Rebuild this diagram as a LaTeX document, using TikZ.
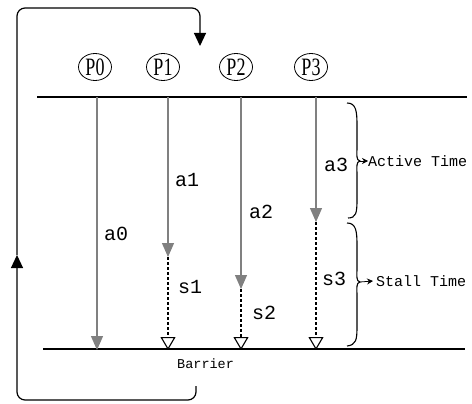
\documentclass[tikz,border=0pt]{standalone}
\usepackage{fontspec}
\setmainfont{Liberation Serif}
\setmonofont{Liberation Mono}
\usepackage{tikz}
\usetikzlibrary{arrows.meta,shapes.geometric}

\begin{document}
\begin{tikzpicture}[
    x=1pt, y=-1pt,
    proc/.style={
        draw,
        ellipse,
        thick,
        inner sep=0pt,
        minimum width=33pt,
        minimum height=27pt,
        font=\fontsize{25}{25}\selectfont
    },
    active/.style={
        draw=gray,
        line width=1.4pt,
        -{Triangle[width=12pt,length=14pt]}
    },
    stall/.style={
        line width=1.2pt,
        dash pattern=on 3pt off 2pt,
        -{Triangle[open,width=15pt,length=13pt,line width=1.1pt,fill=white]}
    },
    lbl/.style={
        anchor=west,
        inner sep=0pt,
        font=\ttfamily\fontsize{20}{20}\selectfont
    },
    note/.style={
        anchor=west,
        inner sep=0pt,
        font=\ttfamily\fontsize{15}{15}\selectfont
    },
    timebrace/.style={
        line width=1.1pt
    },
    loop/.style={
        line width=1.2pt,
        rounded corners=8pt
    }
]
    \useasboundingbox (0,0) rectangle (472,404);

    % --- Processors ---
    \node[proc] (p0) at (95,67)  {\scalebox{0.72}[1]{P0}};
    \node[proc] (p1) at (163,67) {\scalebox{0.72}[1]{P1}};
    \node[proc] (p2) at (236,67) {\scalebox{0.72}[1]{P2}};
    \node[proc] (p3) at (311,67) {\scalebox{0.72}[1]{P3}};

    % --- Start line and barrier ---
    \coordinate (startL) at (37,97);
    \coordinate (startR) at (467,97);
    \coordinate (barL) at (43,349);
    \coordinate (barR) at (465,349);
    \draw[line width=1.3pt] (startL) -- (startR);
    \draw[line width=1.3pt] (barL) -- (barR);
    \node[note, font=\ttfamily\fontsize{13.5}{14}\selectfont] (barrier) at (177,364) {Barrier};

    % --- Ends of the active and stall phases ---
    \coordinate (t0) at (97,97);   \coordinate (b0) at (97,350);
    \coordinate (t1) at (168,97);  \coordinate (m1) at (168,257); \coordinate (b1) at (168,350);
    \coordinate (t2) at (241,97);  \coordinate (m2) at (241,289); \coordinate (b2) at (241,350);
    \coordinate (t3) at (316,97);  \coordinate (m3) at (316,222); \coordinate (b3) at (316,350);

    \draw[active] (t0) -- (b0);
    \draw[active] (t1) -- (m1);
    \draw[active] (t2) -- (m2);
    \draw[active] (t3) -- (m3);
    \draw[stall] (m1) -- (b1);
    \draw[stall] (m2) -- (b2);
    \draw[stall] (m3) -- (b3);

    \node[lbl] (a0) at (104,234) {a0};
    \node[lbl] (a1) at (175,180) {a1};
    \node[lbl] (a2) at (249,212) {a2};
    \node[lbl] (a3) at (324,165) {a3};
    \node[lbl] (s1) at (178,287) {s1};
    \node[lbl] (s2) at (252,313) {s2};
    \node[lbl] (s3) at (322,279) {s3};

    % --- Braces for active and stall time ---
    \coordinate (acttip) at (360,161);
    \coordinate (stltip) at (360,282);
    \draw[timebrace] (347,103) .. controls (356,103) and (357,111) .. (357,125)
        -- (357,146) .. controls (357,156) and (356,160) .. (acttip)
        .. controls (356,162) and (357,166) .. (357,176)
        -- (357,200) .. controls (357,213) and (356,218) .. (348,218);
    \draw[timebrace] (347,223) .. controls (356,223) and (357,231) .. (357,245)
        -- (357,267) .. controls (357,277) and (356,281) .. (stltip)
        .. controls (356,283) and (357,287) .. (357,297)
        -- (357,327) .. controls (357,340) and (356,345) .. (347,346);
    \node[note] (active) at (368,161) {Active Time};
    \node[note] (stalled) at (376,281) {Stall Time};
    \draw[-{Stealth[length=6pt,width=6pt]},thick] (acttip) -- (active.west);
    \draw[-{Stealth[length=6pt,width=6pt]},thick] (stltip) -- ([xshift=-3pt]stalled.west);

    % --- Loop back to the start ---
    \coordinate (loopstart) at (196,386);
    \coordinate (loopmid) at (17,255);
    \coordinate (loopend) at (200,46);
    \draw[loop, -{Triangle[width=12pt,length=13pt]}] (loopstart) |- (17,400) -- (loopmid);
    \draw[loop, -{Triangle[width=12pt,length=13pt]}] (loopmid) |- (200,8) -- (loopend);
\end{tikzpicture}
\end{document}
